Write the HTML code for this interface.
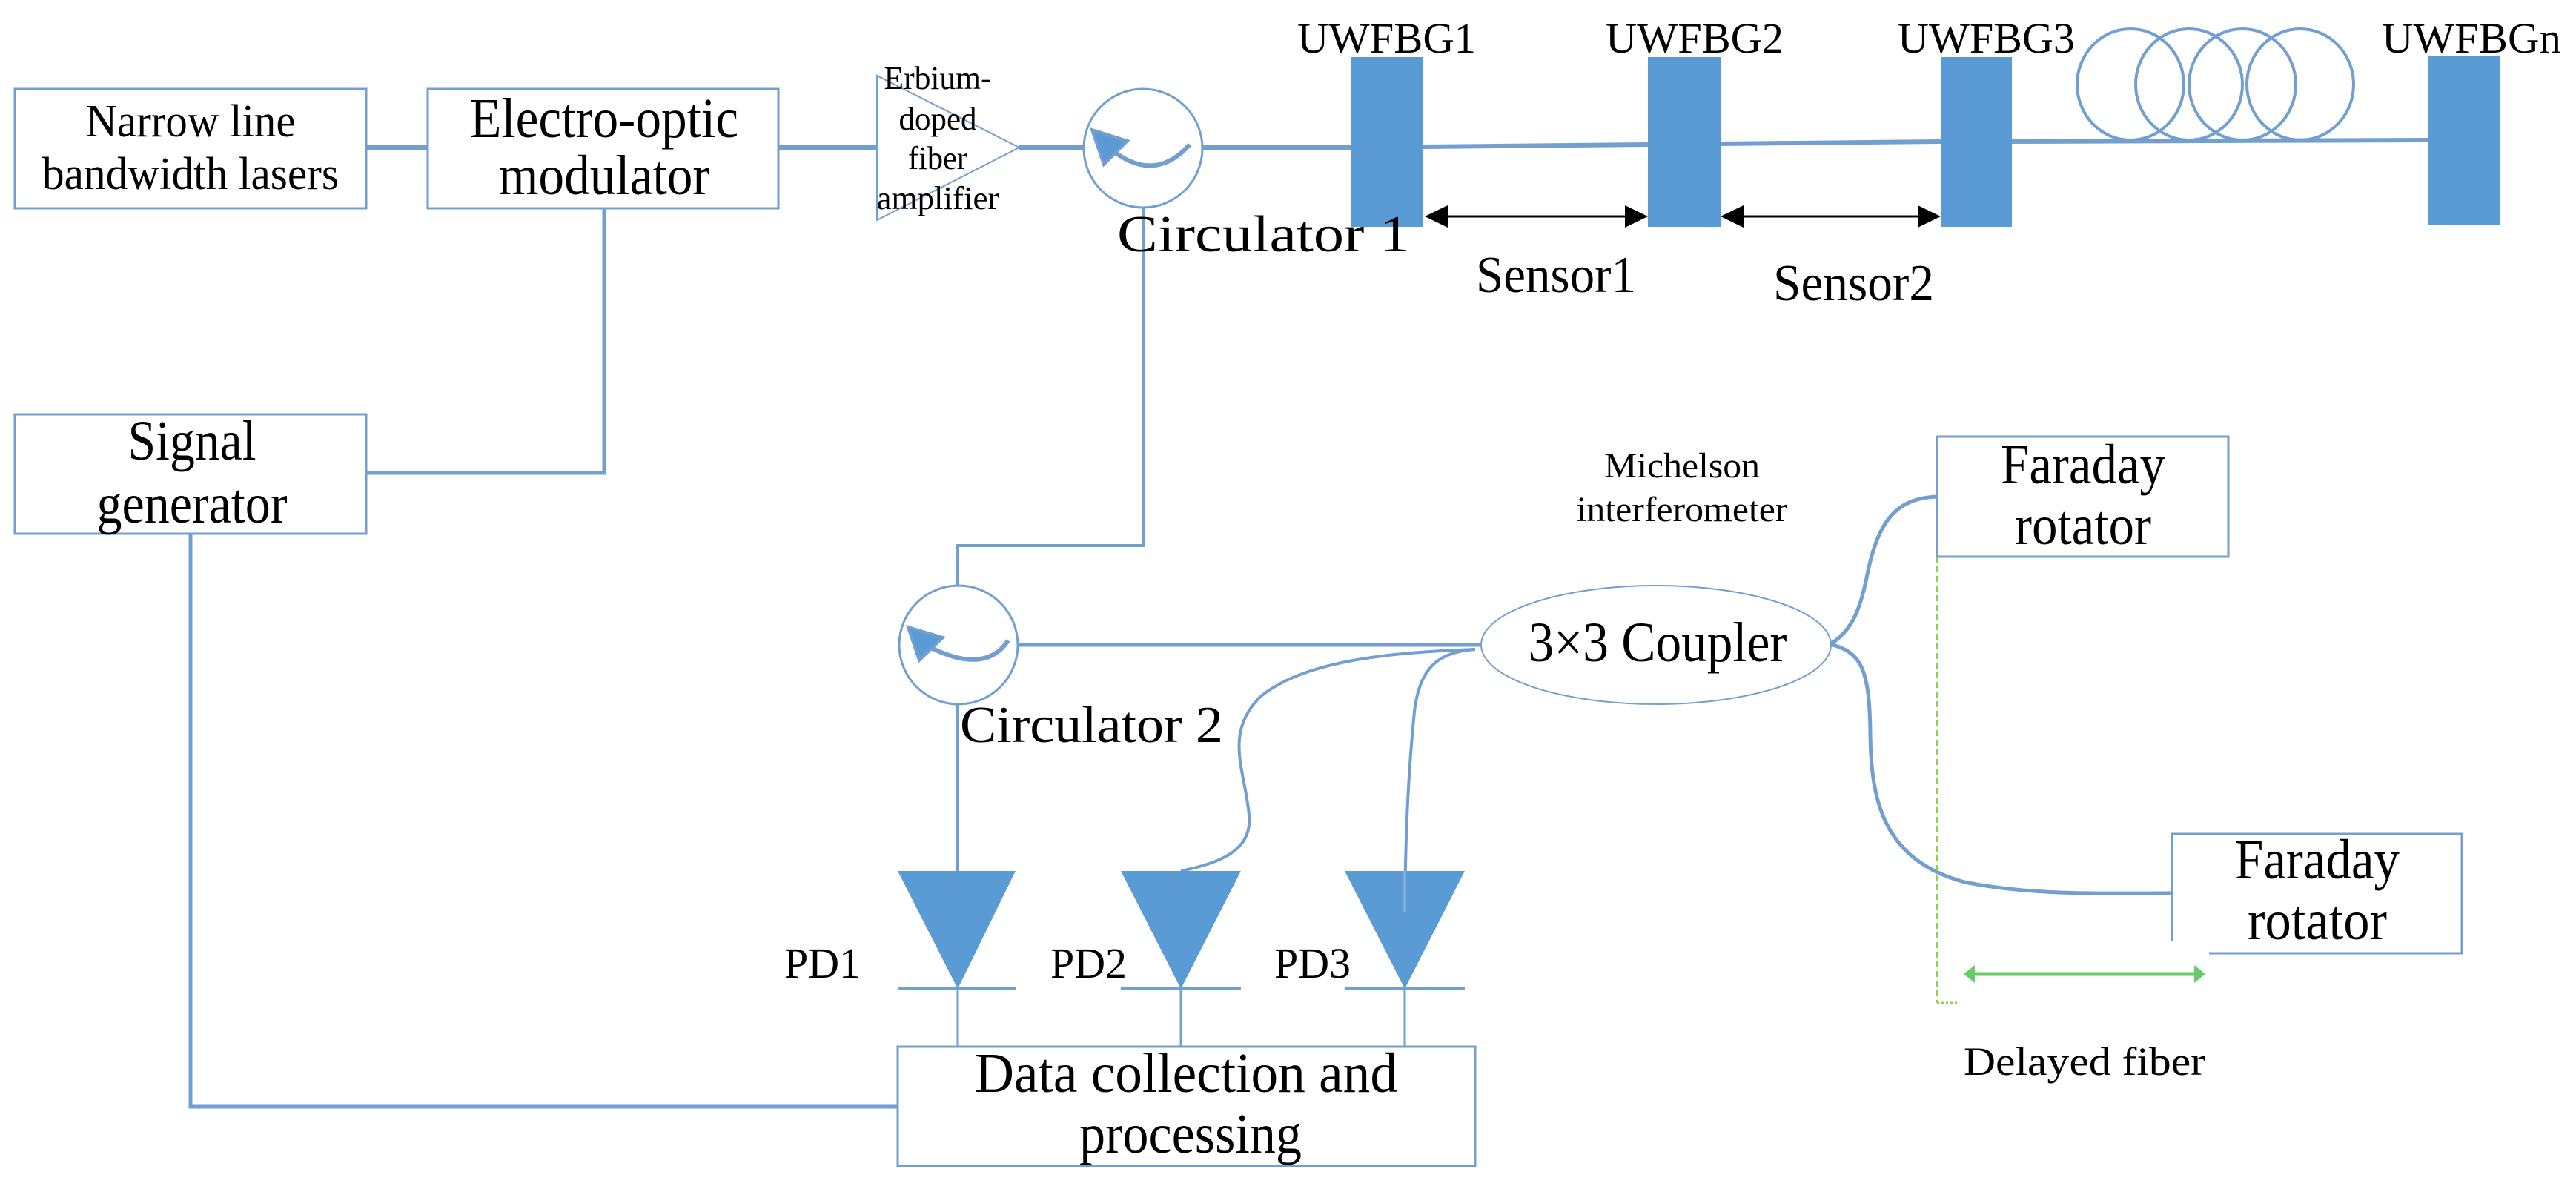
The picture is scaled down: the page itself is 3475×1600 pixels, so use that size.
<!DOCTYPE html>
<html><head><meta charset="utf-8"><style>
html,body{margin:0;padding:0;background:#fff;}
svg{display:block;}
text{font-family:"Liberation Serif",serif;fill:#000;}
</style></head><body>
<svg width="3475" height="1600" viewBox="0 0 3475 1600" xmlns="http://www.w3.org/2000/svg">
<g fill="none" stroke="#729fcf">
<rect x="20" y="120" width="474" height="161" stroke-width="3"/>
<rect x="577" y="120" width="473" height="161" stroke-width="3"/>
<rect x="20" y="559" width="474" height="161" stroke-width="3"/>
<rect x="2613" y="589" width="393" height="162" stroke-width="3"/>
<rect x="1211" y="1412" width="779" height="161" stroke-width="3"/>
<path d="M2930 1269 V1125 H3321 V1286 H2980" stroke-width="3"/>
<path d="M1183 102 L1375 199 L1183 297 Z" stroke-width="2"/>
<path d="M494 199 H577 M1050 199 H1183 M1375 199 H1462 M1622 199 H1823" stroke-width="7"/>
<path d="M1920 198 L2223 195 M2321 194 L2618 191 M2714 191 L3276 189" stroke-width="6"/>
<ellipse cx="2874" cy="114" rx="72" ry="75" stroke-width="4"/>
<ellipse cx="2953" cy="114" rx="72" ry="75" stroke-width="4"/>
<ellipse cx="3025" cy="114" rx="72" ry="75" stroke-width="4"/>
<ellipse cx="3103" cy="114" rx="72" ry="75" stroke-width="4"/>
<path d="M815 281 V638 H494" stroke-width="5"/>
<circle cx="1542" cy="200" r="80" stroke-width="3"/>
<circle cx="1293" cy="870" r="80" stroke-width="3"/>
<path d="M1542 280 V736 H1292 V790" stroke-width="4"/>
<path d="M1605 195 Q1560 245 1506 207" stroke-width="6"/>
<path d="M1360 864 Q1330 910 1256 874" stroke-width="6"/>
<path d="M1373 870 H1998" stroke-width="5"/>
<path d="M1292 950 V1175" stroke-width="4"/>
<path d="M257 720 V1493 H1211" stroke-width="5"/>
<path d="M1990 876 C1880 880 1760 890 1700 940 C1650 990 1680 1040 1685 1100 C1690 1150 1640 1165 1593 1175" stroke-width="4"/>
<path d="M1990 876 C1940 880 1915 900 1908 960 C1900 1040 1896 1120 1895 1230" stroke-width="4"/>
<ellipse cx="2234" cy="870" rx="236" ry="80" stroke-width="2"/>
<path d="M2469 869 C2500 850 2510 820 2520 770 C2535 700 2560 672 2613 670" stroke-width="5"/>
<path d="M2469 869 C2510 880 2522 900 2523 990 C2524 1080 2540 1160 2650 1190 C2740 1208 2830 1205 2930 1205" stroke-width="5"/>
<path d="M1292 1334 V1412 M1593 1334 V1412 M1895 1334 V1412" stroke-width="3"/>
<path d="M1211 1334 H1370 M1512 1334 H1674 M1814 1334 H1976" stroke-width="4"/>
</g>
<polygon points="1473,175 1521,190 1489,222" fill="#5b9bd5" stroke="#729fcf" stroke-width="4"/>
<polygon points="1225,846 1272,860 1240,891" fill="#5b9bd5" stroke="#729fcf" stroke-width="4"/>
<polygon points="1211,1175 1370,1175 1292,1334" fill="#5b9bd5"/>
<polygon points="1512,1175 1674,1175 1593,1334" fill="#5b9bd5"/>
<polygon points="1814,1175 1976,1175 1895,1334" fill="#5b9bd5"/>
<line x1="1895" y1="1175" x2="1895" y2="1231" stroke="#8fb4de" stroke-width="3"/>
<rect x="1823" y="77" width="97" height="229" fill="#5b9bd5"/>
<rect x="2223" y="77" width="98" height="229" fill="#5b9bd5"/>
<rect x="2618" y="77" width="96" height="229" fill="#5b9bd5"/>
<rect x="3276" y="75" width="96" height="229" fill="#5b9bd5"/>
<g stroke="#000" stroke-width="3">
<line x1="1935" y1="292" x2="2212" y2="292"/>
<line x1="2332" y1="292" x2="2607" y2="292"/>
</g>
<g fill="#000">
<polygon points="1922,292 1953,277 1953,307"/>
<polygon points="2223,292 2192,277 2192,307"/>
<polygon points="2321,292 2352,277 2352,307"/>
<polygon points="2618,292 2587,277 2587,307"/>
</g>
<line x1="2613" y1="751" x2="2613" y2="1353" stroke="#8fd14f" stroke-width="3" stroke-dasharray="8,5"/>
<line x1="2613" y1="1353" x2="2640" y2="1353" stroke="#8fd14f" stroke-width="3" stroke-dasharray="3,3"/>
<line x1="2660" y1="1314" x2="2965" y2="1314" stroke="#66cc66" stroke-width="5"/>
<polygon points="2649,1314 2664,1302 2664,1326" fill="#66cc66"/>
<polygon points="2975,1314 2960,1302 2960,1326" fill="#66cc66"/>
<g font-size="62" text-anchor="middle">
<text x="257" y="184" textLength="283" lengthAdjust="spacingAndGlyphs">Narrow line</text>
<text x="257" y="255" textLength="400" lengthAdjust="spacingAndGlyphs">bandwidth lasers</text>
</g>
<g font-size="76" text-anchor="middle">
<text x="815" y="185" textLength="362" lengthAdjust="spacingAndGlyphs">Electro-optic</text>
<text x="815" y="262" textLength="285" lengthAdjust="spacingAndGlyphs">modulator</text>
<text x="259" y="620" textLength="173" lengthAdjust="spacingAndGlyphs">Signal</text>
<text x="259" y="705" textLength="257" lengthAdjust="spacingAndGlyphs">generator</text>
<text x="2810" y="652" textLength="222" lengthAdjust="spacingAndGlyphs">Faraday</text>
<text x="2810" y="734" textLength="184" lengthAdjust="spacingAndGlyphs">rotator</text>
<text x="3126" y="1185" textLength="222" lengthAdjust="spacingAndGlyphs">Faraday</text>
<text x="3126" y="1267" textLength="188" lengthAdjust="spacingAndGlyphs">rotator</text>
<text x="1600" y="1473" textLength="570" lengthAdjust="spacingAndGlyphs">Data collection and</text>
<text x="1606" y="1555" textLength="300" lengthAdjust="spacingAndGlyphs">processing</text>
<text x="2236" y="892" textLength="349" lengthAdjust="spacingAndGlyphs">3×3 Coupler</text>
</g>
<g font-size="44" text-anchor="middle">
<text x="1265" y="120" textLength="145" lengthAdjust="spacingAndGlyphs">Erbium-</text>
<text x="1265" y="175" textLength="105" lengthAdjust="spacingAndGlyphs">doped</text>
<text x="1265" y="228" textLength="80" lengthAdjust="spacingAndGlyphs">fiber</text>
<text x="1265" y="282" textLength="165" lengthAdjust="spacingAndGlyphs">amplifier</text>
</g>
<g font-size="70">
<text x="1507" y="339" textLength="395" lengthAdjust="spacingAndGlyphs">Circulator 1</text>
<text x="1295" y="1001" textLength="355" lengthAdjust="spacingAndGlyphs">Circulator  2</text>
<text x="1991" y="394" textLength="216" lengthAdjust="spacingAndGlyphs">Sensor1</text>
<text x="2392" y="405" textLength="217" lengthAdjust="spacingAndGlyphs">Sensor2</text>
</g>
<g font-size="58">
<text x="1750" y="71" textLength="241" lengthAdjust="spacingAndGlyphs">UWFBG1</text>
<text x="2166" y="71" textLength="240" lengthAdjust="spacingAndGlyphs">UWFBG2</text>
<text x="2560" y="71" textLength="239" lengthAdjust="spacingAndGlyphs">UWFBG3</text>
<text x="3213" y="71" textLength="242" lengthAdjust="spacingAndGlyphs">UWFBGn</text>
<text x="1058" y="1319" textLength="103" lengthAdjust="spacingAndGlyphs">PD1</text>
<text x="1417" y="1319" textLength="103" lengthAdjust="spacingAndGlyphs">PD2</text>
<text x="1719" y="1319" textLength="103" lengthAdjust="spacingAndGlyphs">PD3</text>
</g>
<g font-size="48" text-anchor="middle">
<text x="2269" y="644" textLength="210" lengthAdjust="spacingAndGlyphs">Michelson</text>
<text x="2269" y="703" textLength="285" lengthAdjust="spacingAndGlyphs">interferometer</text>
</g>
<text x="2649" y="1450" font-size="54" textLength="326" lengthAdjust="spacingAndGlyphs">Delayed fiber</text>
</svg>
</body></html>
